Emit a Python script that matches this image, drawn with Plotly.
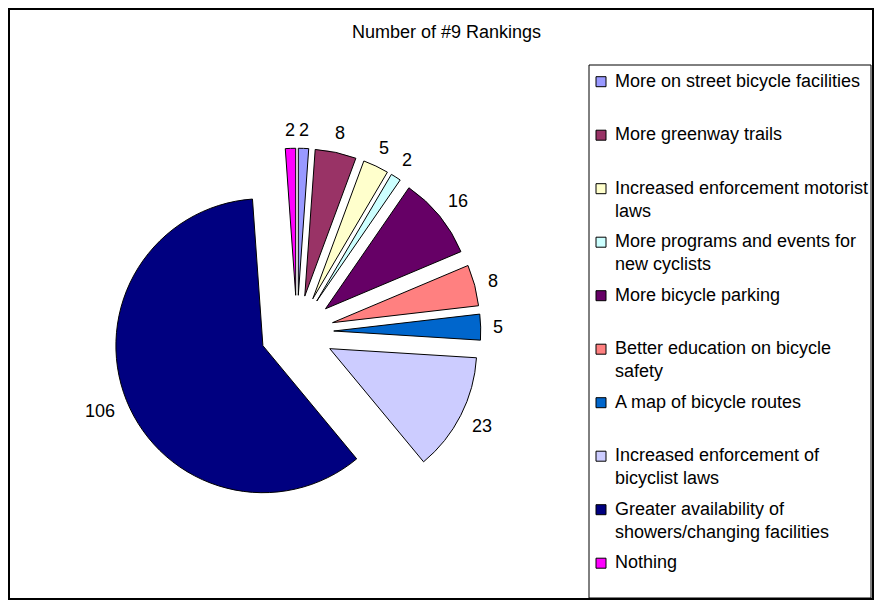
import math
import plotly.graph_objects as go

# the page body has an 8px margin, so the figure is drawn 8px in from the
# window corner; all positions below are given in window pixels
OFF = 8
FIG_W, FIG_H = 882 - 2 * OFF, 603 - OFF
FONT = "Liberation Sans, Arial, sans-serif"

CATEGORIES = [
    "More on street bicycle facilities",
    "More greenway trails",
    "Increased enforcement motorist laws",
    "More programs and events for new cyclists",
    "More bicycle parking",
    "Better education on bicycle safety",
    "A map of bicycle routes",
    "Increased enforcement of bicyclist laws",
    "Greater availability of showers/changing facilities",
    "Nothing",
]
LEGEND_TEXT = [
    "More on street bicycle facilities",
    "More greenway trails",
    "Increased enforcement motorist<br>laws",
    "More programs and events for<br>new cyclists",
    "More bicycle parking",
    "Better education on bicycle<br>safety",
    "A map of bicycle routes",
    "Increased enforcement of<br>bicyclist laws",
    "Greater availability of<br>showers/changing facilities",
    "Nothing",
]
COUNTS = [2, 8, 5, 2, 16, 8, 5, 23, 106, 2]
COLORS = ["#9999FF", "#993366", "#FFFFCC", "#CCFFFF", "#660066",
          "#FF8080", "#0066CC", "#CCCCFF", "#000080", "#FF00FF"]


def px(x):
    return (x - OFF) / FIG_W


def py(y):
    return 1 - (y - OFF) / FIG_H


# pie geometry (window px): centre, radius, explode fraction
CX, CY, R, PULL = 297, 332, 147, 0.25
half = R * (1 + PULL)
RIGHT = OFF + FIG_W  # last visible column

fig = go.Figure()

fig.add_trace(
    go.Pie(
        labels=CATEGORIES,
        values=COUNTS,
        sort=False,
        direction="clockwise",
        rotation=0,
        pull=[PULL] * len(COUNTS),
        marker=dict(colors=COLORS, line=dict(color="black", width=1)),
        textinfo="none",
        domain=dict(x=[px(CX - half), px(CX + half)], y=[py(CY + half), py(CY - half)]),
        showlegend=False,
        hoverinfo="label+value",
    )
)

shapes = [
    # outer chart border
    dict(type="rect", xref="paper", yref="paper",
         x0=px(OFF + 1), x1=px(RIGHT - 1), y0=py(599), y1=py(OFF + 1),
         line=dict(color="black", width=2)),
    # legend box
    dict(type="rect", xref="paper", yref="paper",
         x0=px(589), x1=px(RIGHT - 3), y0=py(598), y1=py(65),
         line=dict(color="black", width=1)),
]
annotations = [
    dict(text="Number of #9 Rankings", xref="paper", yref="paper",
         x=px(446), y=py(32), xanchor="center", yanchor="middle",
         showarrow=False, font=dict(family=FONT, size=18, color="black")),
]

# value labels just outside each exploded slice, Excel style
total = sum(COUNTS)
cum = 0
for v in COUNTS:
    theta = math.radians((cum + v / 2) / total * 360)
    cum += v
    txt = str(v)
    w = 0.556 * 18 * len(txt)
    ext = 0.5 * w * abs(math.sin(theta)) + 6.5 * abs(math.cos(theta))
    dist = R * (1 + PULL) + 12 + ext
    annotations.append(dict(text=txt, xref="paper", yref="paper",
                            x=px(CX + dist * math.sin(theta)),
                            y=py(CY - dist * math.cos(theta)),
                            xanchor="center", yanchor="middle", showarrow=False,
                            font=dict(family=FONT, size=18, color="black")))

# hand-made legend, Excel style spacing
for i, (txt, col) in enumerate(zip(LEGEND_TEXT, COLORS)):
    base = 85.7 + i * 53.5  # baseline of first line
    shapes.append(dict(type="rect", xref="paper", yref="paper",
                       x0=px(596), x1=px(606), y0=py(base + 1), y1=py(base - 9),
                       fillcolor=col, line=dict(color="black", width=1)))
    annotations.append(dict(text=txt, xref="paper", yref="paper",
                            x=px(613), y=py(base - 17), xanchor="left", yanchor="top",
                            align="left", showarrow=False,
                            font=dict(family=FONT, size=18, color="black")))

fig.update_layout(
    width=FIG_W,
    height=FIG_H,
    margin=dict(l=0, r=0, t=0, b=0),
    paper_bgcolor="white",
    plot_bgcolor="white",
    font=dict(family=FONT, size=18, color="black"),
    shapes=shapes,
    annotations=annotations,
)

fig.write_html("out.html")
